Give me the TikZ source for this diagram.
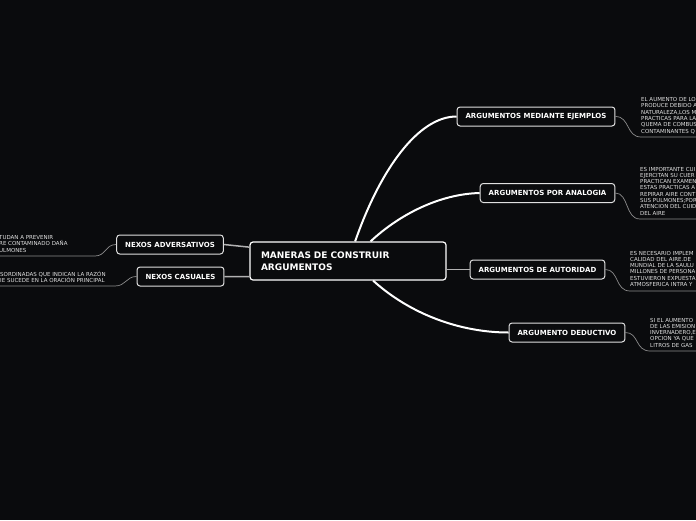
\documentclass[tikz,border=0pt]{standalone}
\usepackage{fontspec}
\setmainfont{DejaVu Sans}
\usetikzlibrary{positioning}
\definecolor{bgdark}{HTML}{0A0B0D}
\definecolor{twiggray}{HTML}{8C8C8C}
\definecolor{notegray}{HTML}{E2E2E2}

\begin{document}
\begin{tikzpicture}[
  x=1pt, y=-1pt,
  box/.style={draw=white!88!black, line width=1pt, rounded corners=3pt, fill=bgdark, text=white, font=\bfseries\fontsize{7}{8}\selectfont, inner xsep=8.5pt, minimum height=19pt},
  root/.style={box, draw=white, line width=1.2pt, font=\bfseries\fontsize{9}{11.5}\selectfont, align=left, text width=174pt, inner xsep=11pt, minimum height=38pt},
  note/.style={text=notegray, font=\fontsize{5.5}{6.3}\selectfont, align=left, anchor=north west, inner sep=0pt},
  branch/.style={white, line width=2pt},
  link/.style={white!70!black, line width=1.5pt},
  twig/.style={twiggray, line width=0.7pt}
]
\useasboundingbox (0,0) rectangle (696,520);
\fill[bgdark] (0,0) rectangle (696,520);
\clip (0,0) rectangle (696,520);

\node[root] (root) at (348,261) {MANERAS DE CONSTRUIR\\ARGUMENTOS};
\node[box] (ejem) at (536,116.5) {ARGUMENTOS MEDIANTE EJEMPLOS};
\node[box] (analog) at (547.5,193) {ARGUMENTOS POR ANALOGIA};
\node[box] (autor) at (537.5,269.5) {ARGUMENTOS DE AUTORIDAD};
\node[box] (deduct) at (567,332.5) {ARGUMENTO DEDUCTIVO};
\node[box] (advers) at (170,244.5) {NEXOS ADVERSATIVOS};
\node[box] (causal) at (180.5,276.5) {NEXOS CASUALES};

\node[note] (ejemnote) at (641,97.4) {EL AUMENTO DE LO\\PRODUCE DEBIDO A\\NATURALEZA,LOS M\\PRACTICAS PARA LA\\QUEMA DE COMBUS\\CONTAMINANTES Q};
\node[note] (analognote) at (640,166.8) {ES IMPORTANTE CUI\\EJERCITAN SU CUER\\PRACTICAN EXAMEN\\ESTAS PRACTICAS A\\REPIRAR AIRE CONT\\SUS PULMONES;POR\\ATENCION DEL CUID\\DEL AIRE};
\node[note] (autornote) at (630,250.8) {ES NECESARIO IMPLEM\\CALIDAD DEL AIRE.DE\\MUNDIAL DE LA SAULU\\MILLONES DE PERSONA\\ESTUVIERON EXPUESTA\\ATMOSFERICA INTRA Y};
\node[note] (deductnote) at (650,317.8) {SI EL AUMENTO\\DE LAS EMISION\\INVERNADERO,E\\OPCION YA QUE\\LITROS DE GAS};
\node[note] (aversnote) at (-1,235.4) {TUDAN A PREVENIR\\RE CONTAMINADO DAÑA\\ULMONES};
\node[note] (causalnote) at (0,270.8) {SORDINADAS QUE INDICAN LA RAZÓN\\IE SUCEDE EN LA ORACIÓN PRINCIPAL};

\coordinate (ejemend) at (700,137);
\coordinate (analogend) at (700,219);
\coordinate (autorend) at (700,291);
\coordinate (deductend) at (700,351);
\coordinate (adversend) at (-5,256);
\coordinate (causalend) at (-5,286);

\draw[branch] (root.70) .. controls (380,170) and (418,116.5) .. (ejem.west);
\draw[branch] (root.41) .. controls (400,214) and (440,194) .. (analog.west);
\draw[branch] (root.-38) .. controls (410,314) and (460,332.5) .. (deduct.west);
\draw[link] (root.east |- autor.west) -- (autor.west);
\draw[link] (advers.east) -- (root.172);
\draw[link] (causal.east) -- (root.189);

\draw[twig] (ejem.east) .. controls (630,116.5) and (626,137) .. (641,137) -- (ejemend);
\draw[twig] (analog.east) .. controls (629,193) and (625,219) .. (640,219) -- (analogend);
\draw[twig] (autor.east) .. controls (619,269.5) and (615,291) .. (630,291) -- (autorend);
\draw[twig] (deduct.east) .. controls (639,332.5) and (635,351) .. (650,351) -- (deductend);
\draw[twig] (advers.west) .. controls (105,244.5) and (106,256) .. (95,256) -- (adversend);
\draw[twig] (causal.west) .. controls (126,276.5) and (126,286) .. (115,286) -- (causalend);
\end{tikzpicture}
\end{document}
